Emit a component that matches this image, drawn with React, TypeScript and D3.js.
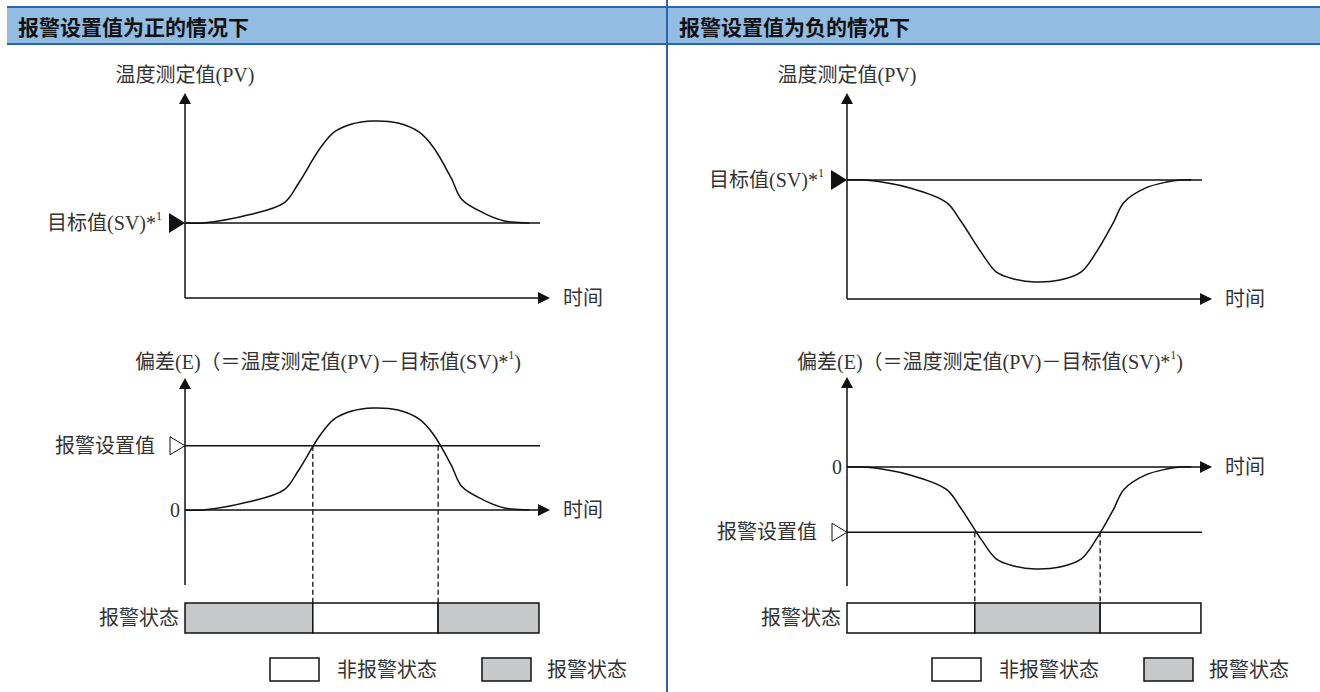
import * as d3 from 'd3';

// time axis is 0..100 (end of the reference line), values normalised to the curve height
const timeGrid = [0, 5, 18, 28, 32, 38, 42, 47, 53, 60, 66, 70, 75, 78, 84, 90, 94, 97];
const deviationPositive = [0, 0, 0.08, 0.2, 0.39, 0.73, 0.89, 0.97, 1, 0.98, 0.89, 0.74, 0.44, 0.23, 0.1, 0.02, 0.005, 0];
const deviationNegative = [0, 0, -0.08, -0.22, -0.4, -0.72, -0.9, -0.97, -1, -0.98, -0.9, -0.72, -0.42, -0.22, -0.08, -0.02, 0, 0];

const alarmPositive = 0.63;
const alarmNegative = -0.64;

// alarm status bar: segment breaks on the time axis + alarm flag for each segment
const statusBreaksPositive = [0, 36, 71.3, 99.7];
const statusAlarmPositive = [true, false, true];
const statusBreaksNegative = [0, 36, 71.3, 99.7];
const statusAlarmNegative = [false, true, false];

const headerTitles = ['报警设置值为正的情况下', '报警设置值为负的情况下'];
const pvTitle = '温度测定值(PV)';
const svLabel = '目标值(SV)*';
const timeLabel = '时间';
const alarmSetLabel = '报警设置值';
const zeroLabel = '0';
const statusLabel = '报警状态';
const legendLabels = ['非报警状态', '报警状态'];

const BLUE = '#2d63ae';
const HEAD_FILL = '#93bce3';
const GRAY = '#c7c8c9';
const INK = '#111';
const TXT = '#333';
const FONT = "'Liberation Serif', 'Noto Sans CJK SC', serif";
const CJK_BOLD = "'Noto Sans CJK SC', sans-serif";

type Cfg = {
  axisX: number;
  svY: number;
  pvBaseY: number;
  zeroY: number;
  devBaseY: number;
  devTipY: number;
  values: number[];
  alarm: number;
  breaks: number[];
  flags: boolean[];
};

const panels: Cfg[] = [
  { axisX: 185, svY: 223, pvBaseY: 298, zeroY: 510, devBaseY: 585, devTipY: 378,
    values: deviationPositive, alarm: alarmPositive, breaks: statusBreaksPositive, flags: statusAlarmPositive },
  { axisX: 847, svY: 180, pvBaseY: 299, zeroY: 467, devBaseY: 586, devTipY: 377,
    values: deviationNegative, alarm: alarmNegative, breaks: statusBreaksNegative, flags: statusAlarmNegative },
];

const AMP = 102;

function UpArrow({ y }: { y: number }) {
  return <polygon points={`0,${y} -6,${y + 11} 6,${y + 11}`} fill={INK} />;
}
function RightArrow({ x, y }: { x: number; y: number }) {
  return <polygon points={`${x},${y} ${x - 12},${y - 6} ${x - 12},${y + 6}`} fill={INK} />;
}

function Panel({ cfg }: { cfg: Cfg }) {
  const x = d3.scaleLinear().domain([0, 100]).range([0, 355]);
  const yPv = d3.scaleLinear().domain([0, 1]).range([cfg.svY, cfg.svY - AMP]);
  const yDev = d3.scaleLinear().domain([0, 1]).range([cfg.zeroY, cfg.zeroY - AMP]);
  const arrowX = 365;

  const pvLine = d3.line<number>()
    .x((_, i) => x(timeGrid[i]))
    .y(d => yPv(d))
    .curve(d3.curveCatmullRom.alpha(0.5));
  const devLine = d3.line<number>()
    .x((_, i) => x(timeGrid[i]))
    .y(d => yDev(d))
    .curve(d3.curveCatmullRom.alpha(0.5));

  const alarmY = yDev(cfg.alarm);
  const barTop = 603, barH = 30;
  const segs = cfg.flags.map((f, i) => ({ a: cfg.breaks[i], b: cfg.breaks[i + 1], alarm: f }));
  const crossings = cfg.breaks.slice(1, -1);
  const sw = 1.5;

  return (
    <g transform={`translate(${cfg.axisX},0)`}>
      {/* PV chart */}
      <text x={0} y={75} textAnchor="middle" dominantBaseline="central" fontSize={20} fill={TXT}>{pvTitle}</text>
      <line x1={0} x2={0} y1={cfg.pvBaseY} y2={103} stroke={INK} strokeWidth={sw} />
      <UpArrow y={93} />
      <line x1={0} x2={arrowX - 10} y1={cfg.pvBaseY} y2={cfg.pvBaseY} stroke={INK} strokeWidth={sw} />
      <RightArrow x={arrowX} y={cfg.pvBaseY} />
      <text x={378} y={cfg.pvBaseY} dominantBaseline="central" fontSize={20} fill={TXT}>{timeLabel}</text>
      <line x1={0} x2={x(100)} y1={cfg.svY} y2={cfg.svY} stroke={INK} strokeWidth={sw} />
      <path d={pvLine(cfg.values) ?? ''} fill="none" stroke={INK} strokeWidth={sw} />
      <polygon points={`-16,${cfg.svY - 10} 0,${cfg.svY} -16,${cfg.svY + 10}`} fill={INK} />
      <text x={-23} y={cfg.svY} textAnchor="end" dominantBaseline="central" fontSize={20} fill={TXT}>
        {svLabel}<tspan fontSize={12} dy={-7}>1</tspan>
      </text>

      {/* deviation chart */}
      <text x={-50} y={362} dominantBaseline="central" fontSize={20} fill={TXT}>
        偏差(E)（＝温度测定值(PV)－目标值(SV)*<tspan fontSize={12} dy={-7}>1</tspan><tspan dy={7}>)</tspan>
      </text>
      <line x1={0} x2={0} y1={cfg.devBaseY} y2={cfg.devTipY + 10} stroke={INK} strokeWidth={sw} />
      <UpArrow y={cfg.devTipY} />
      <line x1={0} x2={arrowX - 10} y1={cfg.zeroY} y2={cfg.zeroY} stroke={INK} strokeWidth={sw} />
      <RightArrow x={arrowX} y={cfg.zeroY} />
      <text x={378} y={cfg.zeroY} dominantBaseline="central" fontSize={20} fill={TXT}>{timeLabel}</text>
      <text x={-5} y={cfg.zeroY} textAnchor="end" dominantBaseline="central" fontSize={20} fill={TXT}>{zeroLabel}</text>
      <line x1={0} x2={x(100)} y1={alarmY} y2={alarmY} stroke={INK} strokeWidth={sw} />
      <polygon points={`-15,${alarmY - 9} 0,${alarmY} -15,${alarmY + 9}`} fill="#fff" stroke={INK} strokeWidth={1} />
      <text x={-30} y={alarmY} textAnchor="end" dominantBaseline="central" fontSize={20} fill={TXT}>{alarmSetLabel}</text>
      <path d={devLine(cfg.values) ?? ''} fill="none" stroke={INK} strokeWidth={sw} />
      {crossings.map((t, i) => (
        <line key={i} x1={x(t)} x2={x(t)} y1={alarmY} y2={barTop} stroke={INK} strokeWidth={1.3} strokeDasharray="5,3" />
      ))}

      {/* alarm status bar */}
      {segs.map((s, i) => (
        <rect key={i} x={x(s.a)} y={barTop} width={x(s.b) - x(s.a)} height={barH}
          fill={s.alarm ? GRAY : '#fff'} stroke={INK} strokeWidth={sw} />
      ))}
      <text x={-6} y={barTop + barH / 2} textAnchor="end" dominantBaseline="central" fontSize={20} fill={TXT}>{statusLabel}</text>

      {/* legend */}
      <rect x={85} y={658} width={49} height={23} fill="#fff" stroke={INK} strokeWidth={sw} />
      <text x={152} y={670} dominantBaseline="central" fontSize={20} fill={TXT}>{legendLabels[0]}</text>
      <rect x={297} y={658} width={49} height={23} fill={GRAY} stroke={INK} strokeWidth={sw} />
      <text x={362} y={670} dominantBaseline="central" fontSize={20} fill={TXT}>{legendLabels[1]}</text>
    </g>
  );
}

export default function App() {
  return (
    <svg width={1320} height={692} style={{ position: 'absolute', left: 0, top: 0, background: '#fff' }}
      fontFamily={FONT}>
      <rect x={0} y={0} width={1320} height={692} fill="#fff" />
      <rect x={7} y={7} width={1313} height={37} fill={HEAD_FILL} />
      <line x1={7} x2={1320} y1={7} y2={7} stroke={BLUE} strokeWidth={2} />
      <line x1={7} x2={1320} y1={44} y2={44} stroke={BLUE} strokeWidth={2} />
      <line x1={667} x2={667} y1={0} y2={692} stroke={BLUE} strokeWidth={2} />
      <text x={18} y={26} dominantBaseline="central" fontSize={21} fontWeight="bold" fontFamily={CJK_BOLD} fill="#111">{headerTitles[0]}</text>
      <text x={679} y={26} dominantBaseline="central" fontSize={21} fontWeight="bold" fontFamily={CJK_BOLD} fill="#111">{headerTitles[1]}</text>
      {panels.map((p, i) => <Panel key={i} cfg={p} />)}
    </svg>
  );
}
